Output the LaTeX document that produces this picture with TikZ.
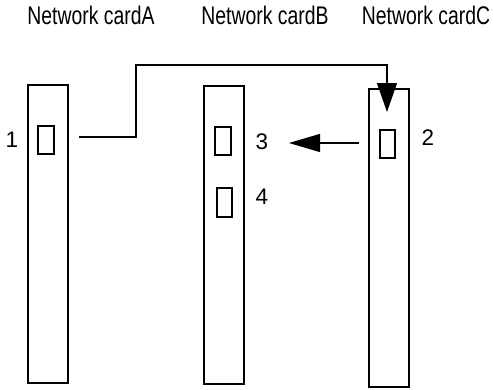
\documentclass[tikz,border=0pt]{standalone}
\usepackage{fontspec}
\setmainfont{Liberation Sans}
\newfontfamily\narrowfont[FakeStretch=0.76]{Liberation Sans}
\usetikzlibrary{arrows.meta}
\begin{document}
\begin{tikzpicture}[x=1pt,y=-1pt,
  card/.style={draw,line width=2pt,minimum width=40pt,minimum height=298pt,inner sep=0pt,anchor=center},
  port/.style={draw,line width=1.6pt,minimum width=15pt,minimum height=28pt,inner sep=0pt,anchor=center},
  title/.style={font=\narrowfont\fontsize{25.5}{30}\selectfont,inner sep=0pt,anchor=center},
  num/.style={font=\fontsize{22.5}{26}\selectfont,inner sep=0pt,anchor=center},
  link/.style={line width=1.3pt}]
\useasboundingbox (0,0) rectangle (493,389);
\node[title] (tA) at (91,15) {Network cardA};
\node[title] (tB) at (265,15) {Network cardB};
\node[title] (tC) at (426,15) {Network cardC};
\node[card] (A) at (48,234) {};
\node[card] (B) at (224,235) {};
\node[card] (C) at (389,238) {};
\node[port,minimum width=16pt] (pA) at (46,140) {};
\node[port,minimum width=16pt] (p3) at (223,141) {};
\node[port,minimum height=29pt] (p4) at (224.5,202.5) {};
\node[port] (p2) at (387.5,144) {};
\node[num] (l1) at (12,140) {1};
\node[num] (l3) at (262,142) {3};
\node[num] (l4) at (262,197) {4};
\node[num] (l2) at (428,138) {2};
\coordinate (aout) at (79,137);
\coordinate (cin) at (387,112);
\coordinate (cout) at (359,143);
\coordinate (bin) at (289,143);
\draw[link,-{Triangle[length=29pt,width=20pt]}] (aout) -- (136,137) -- (136,65) -- (387,65) -- (cin);
\draw[link,-{Triangle[length=31pt,width=18pt]}] (cout) -- (bin);
\end{tikzpicture}
\end{document}
